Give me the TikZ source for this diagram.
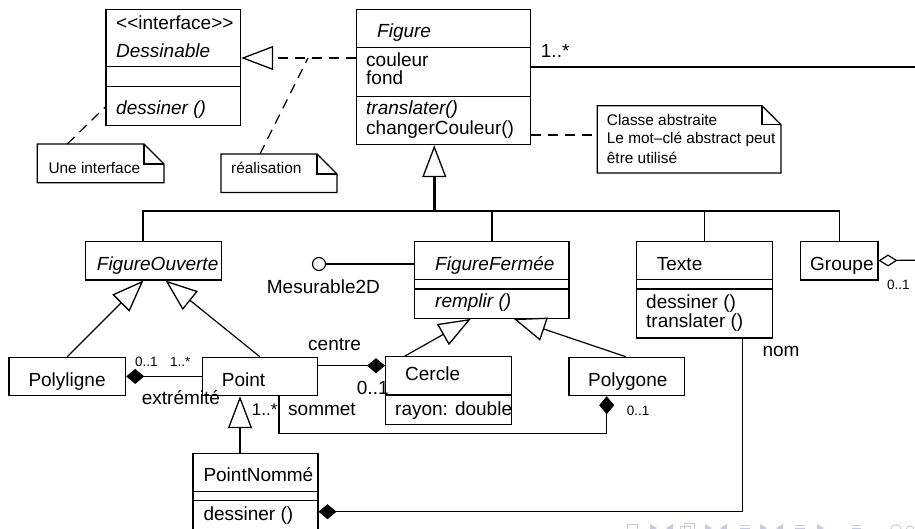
\documentclass[tikz,border=0pt]{standalone}
\usepackage{fontspec}
\setmainfont{Liberation Sans}
\usetikzlibrary{arrows.meta,calc}

% UML note: a rectangle with a folded top-right corner
\newcommand{\umlnote}[2]{%
  \draw[link,fill=white] (#1.north west) -- ($(#1.north east)+(-#2,0)$)
    -- ($(#1.north east)+(0,#2)$) -- (#1.south east) -- (#1.south west) -- cycle;
  \draw[link] ($(#1.north east)+(-#2,0)$) |- ($(#1.north east)+(0,#2)$);
}

\begin{document}
\begin{tikzpicture}[x=1pt,y=-1pt,
  font=\fontsize{19}{21}\selectfont,
  box/.style={draw, line width=1.2pt, inner sep=0pt, anchor=north west},
  notearea/.style={inner sep=0pt, outer sep=0pt, anchor=north west},
  txt/.style={anchor=base west, inner sep=0pt},
  it/.style={txt, font=\fontsize{19}{21}\selectfont\itshape},
  notetxt/.style={txt, font=\fontsize{15.4}{17}\selectfont},
  small/.style={txt, font=\fontsize{13.5}{15}\selectfont},
  sep/.style={line width=1.2pt},
  link/.style={line width=1.2pt},
  tree/.style={line width=1.5pt},
  gen/.style={link, -{Triangle[open, length=32pt, width=24pt, line width=1.3pt]}},
  realize/.style={gen, dash pattern=on 10pt off 7pt},
  comp/.style={link, -{Diamond[length=18pt, width=15pt]}},
  agg/.style={link, -{Diamond[open, length=19pt, width=12pt]}},
  notelink/.style={link, dash pattern=on 10pt off 7pt},
]
\useasboundingbox (0,0) rectangle (915,529);
\clip (0,0) rectangle (915,529);

% ---------------- classes ----------------
% Dessinable
\node[box, minimum width=134.7pt, minimum height=116pt] (dess) at (105.3,9) {};
\draw[sep] (105.3,66.7) -- (240,66.7);
\draw[sep] (105.3,86.3) -- (240,86.3);
\node[txt] (dessStereo) at (116,29.3) {<{}<interface>{}>};
\node[it]  (dessName)   at (116,57.3) {Dessinable};
\node[it]  (dessOp)     at (116,115) {dessiner ()};

% Figure
\node[box, minimum width=174pt, minimum height=134.7pt] (fig) at (356,9.3) {};
\draw[sep] (356,47.7) -- (530,47.7);
\draw[sep] (356,96.7) -- (530,96.7);
\node[it]  (figName) at (377,37.3) {Figure};
\node[txt] (figA1)   at (366,66.7) {couleur};
\node[txt] (figA2)   at (366,85) {fond};
\node[it]  (figO1)   at (366,115) {translater()};
\node[txt] (figO2)   at (366,135) {changerCouleur()};

% FigureOuverte
\node[box, minimum width=135.7pt, minimum height=38.6pt] (fo) at (85,240.7) {};
\node[it] (foName) at (96.7,270) {FigureOuverte};

% FigureFermée
\node[box, minimum width=154.3pt, minimum height=77pt] (ff) at (414,240.7) {};
\draw[sep] (414,279.3) -- (568.3,279.3);
\draw[sep] (414,289) -- (568.3,289);
\node[it] (ffName) at (435,270) {FigureFermée};
\node[it] (ffOp)   at (435,307.3) {remplir ()};

% Texte
\node[box, minimum width=135.7pt, minimum height=96.6pt] (texte) at (636,240.7) {};
\draw[sep] (636,279.3) -- (771.7,279.3);
\draw[sep] (636,289) -- (771.7,289);
\node[txt] (texteName) at (656.7,270) {Texte};
\node[txt] (texteO1)   at (646,308.3) {dessiner ()};
\node[txt] (texteO2)   at (646,327.3) {translater ()};

% Groupe
\node[box, minimum width=77.3pt, minimum height=38.6pt] (groupe) at (800,240.7) {};
\node[txt] (groupeName) at (810,270) {Groupe};

% Polyligne
\node[box, minimum width=116.7pt, minimum height=38.3pt] (poly) at (8.3,356.7) {};
\node[txt] (polyName) at (28.3,386) {Polyligne};

% Point
\node[box, minimum width=115pt, minimum height=38.3pt] (point) at (201.7,356.7) {};
\node[txt] (pointName) at (221.7,386) {Point};

% Cercle
\node[box, minimum width=126pt, minimum height=68pt] (cercle) at (385,356) {};
\draw[sep] (385,395) -- (511,395);
\node[txt] (cercleName) at (405,380) {Cercle};
\node[txt] (cercleA1)   at (395,415) {rayon: double};

% Polygone
\node[box, minimum width=115.7pt, minimum height=38.3pt] (polygone) at (568.3,356.7) {};
\node[txt] (polygoneName) at (588,386) {Polygone};

% PointNommé
\node[box, minimum width=125pt, minimum height=90pt] (pn) at (192.3,452.7) {};
\draw[sep] (192.3,491.7) -- (317.3,491.7);
\draw[sep] (192.3,500.7) -- (317.3,500.7);
\node[txt] (pnName) at (203.3,481) {PointNommé};
\node[txt] (pnOp)   at (203.3,520.7) {dessiner ()};

% ---------------- notes ----------------
\node[notearea, minimum width=183.7pt, minimum height=67.3pt] (noteA) at (597.3,105.7) {};
\umlnote{noteA}{19}
\node[notetxt] (noteA1) at (606.7,125.7) {Classe abstraite};
\node[notetxt] (noteA2) at (606.7,144) {Le mot–clé abstract peut};
\node[notetxt] (noteA3) at (606.7,163.3) {être utilisé};

\node[notearea, minimum width=126.7pt, minimum height=38.7pt] (noteU) at (37.3,144) {};
\umlnote{noteU}{20}
\node[notetxt] (noteU1) at (48.3,173.3) {Une interface};

\node[notearea, minimum width=116pt, minimum height=38.5pt] (noteR) at (221,154) {};
\umlnote{noteR}{20}
\node[notetxt] (noteR1) at (231,173.3) {réalisation};

% ---------------- connectors ----------------
% realization Figure -> Dessinable
\coordinate (yReal) at (0,58);
\draw[realize] (fig.west |- yReal) -- (dess.east |- yReal);
\coordinate (realMid) at (308,58);
\draw[notelink] ($(noteR.north west)+(39,0)$) -- (realMid);
\draw[notelink] ($(noteU.north west)+(30,0)$) -- ($(dess.north west)+(0,98)$);
\coordinate (yAbs) at (0,135);
\draw[notelink] (fig.east |- yAbs) -- (noteA.west |- yAbs);

% association Figure 1..* (continues past the right edge)
\coordinate (yAssoc) at (0,67);
\coordinate (offR) at (930,67);
\draw[link] (fig.east |- yAssoc) -- (offR);
\node[txt] (assocMult) at (540.7,57.3) {1..*};

% inheritance tree below Figure
\coordinate (bus) at (0,211);
\coordinate (foDrop) at (143,0);
\coordinate (trunkX) at (434.3,0);
\draw[tree] (fo.north -| foDrop) -- (foDrop |- bus) -- (groupe.north |- bus) -- (groupe.north);
\draw[tree] (ff.north) -- (ff.north |- bus);
\draw[tree] (texte.north) -- (texte.north |- bus);
\draw[gen, line width=2.4pt] (trunkX |- bus) -- (fig.south -| trunkX);

% FigureOuverte subclasses
\draw[gen] (poly.north) -- ($(fo.south)+(-10,0)$);
\draw[gen] (point.north) -- ($(fo.south)+(12,0)$);

% Polyligne <>-- Point (extrémité)
\draw[comp] (point.west) -- (poly.east);
\node[small] (extrM1) at (135,366.7) {0..1};
\node[small] (extrM2) at (170,366.7) {1..*};
\node[txt]   (extrRole) at (141.7,404) {extrémité};

% PointNommé is a Point
\coordinate (pnX) at (240,0);
\draw[gen] (pn.north -| pnX) -- (point.south -| pnX);

% Cercle <>-- Point (centre)
\coordinate (yCentre) at (0,365.7);
\draw[comp] (point.east |- yCentre) -- (cercle.west |- yCentre);
\node[txt] (centreRole) at (308,350) {centre};
\node[txt] (centreMult) at (356.7,394) {0..1};

% Polygone <>-- Point (sommet)
\coordinate (somA) at (279,433.3);
\coordinate (somB) at (606.7,0);
\draw[comp] (point.south -| somA) -- (somA) -| (polygone.south -| somB);
\node[txt, font=\fontsize{17}{19}\selectfont] (somMult) at (251.7,415) {1..*};
\node[txt]   (somRole) at (288,415) {sommet};
\node[small] (polyMult) at (626.7,415) {0..1};

% FigureFermée subclasses
\draw[gen] ($(cercle.north west)+(20,0)$) -- ($(ff.south)+(-21,0)$);
\draw[gen] ($(polygone.north)+(-1,0)$) -- ($(ff.south)+(22,0)$);

% provided interface Mesurable2D
\node[circle, draw, line width=1.2pt, minimum size=13pt, inner sep=0pt] (mes) at (319,264) {};
\draw[link] (mes) -- (ff.west |- mes);
\node[txt] (mesName) at (266.7,294) {Mesurable2D};

% PointNommé <>-- Texte (nom)
\coordinate (nomC) at (742.7,511.7);
\draw[comp] (texte.south -| nomC) -- (nomC) -- (pn.east |- nomC);
\node[txt] (nomRole) at (762.3,356.7) {nom};

% Groupe aggregation (continues past the right edge)
\coordinate (offG) at (930,260);
\draw[agg] (offG) -- (groupe.east);
\node[small] (groupeMult) at (887,289) {0..1};

% ---------------- navigation symbols ----------------
\begin{scope}[draw={rgb,255:red,200;green,200;blue,228}, fill={rgb,255:red,200;green,200;blue,228}, line width=1pt]
  \draw (627,524) rectangle (637,532);
  \fill (650,524) -- (657,528) -- (650,532) -- cycle;
  \fill (673,524) -- (666,528) -- (673,532) -- cycle;
  \draw (680,526) rectangle (690,532);
  \draw (684,523) rectangle (694,529);
  \fill (705,524) -- (712,528) -- (705,532) -- cycle;
  \fill (727,524) -- (720,528) -- (727,532) -- cycle;
  \draw (740,525) -- (750,525) (740,528) -- (750,528) (740,531) -- (750,531);
  \fill (760,524) -- (767,528) -- (760,532) -- cycle;
  \fill (783,524) -- (776,528) -- (783,532) -- cycle;
  \draw (795,525) -- (805,525) (795,528) -- (805,528) (795,531) -- (805,531);
  \fill (817,524) -- (824,528) -- (817,532) -- cycle;
  \draw (852,525) -- (861,525) (852,528) -- (861,528) (852,531) -- (861,531);
  \draw (896,530) circle (5.5);
  \draw (910,530) circle (4);
\end{scope}
\end{tikzpicture}
\end{document}
